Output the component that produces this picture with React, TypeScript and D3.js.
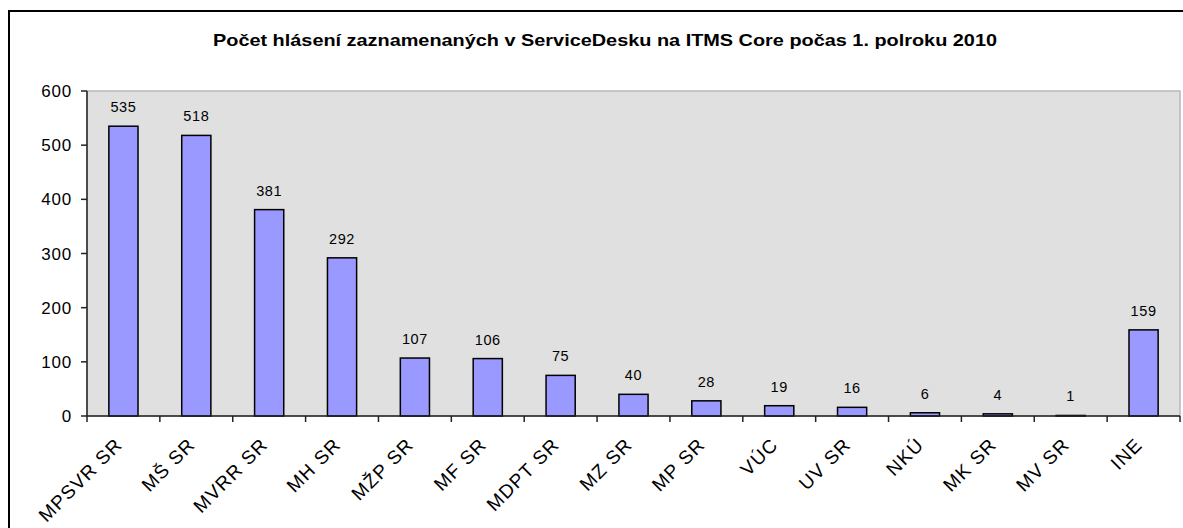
import React from 'react'
import * as d3 from 'd3'

const categories = [
  'MPSVR SR', 'MŠ SR', 'MVRR SR', 'MH SR', 'MŽP SR', 'MF SR', 'MDPT SR', 'MZ SR',
  'MP SR', 'VÚC', 'UV SR', 'NKÚ', 'MK SR', 'MV SR', 'INE',
]
const values = [535, 518, 381, 292, 107, 106, 75, 40, 28, 19, 16, 6, 4, 1, 159]
const yTicks = [0, 100, 200, 300, 400, 500, 600]
const title = 'Počet hlásení zaznamenaných v ServiceDesku na ITMS Core počas 1. polroku 2010'

const width = 1183
const height = 528
const font = '"Liberation Sans", Arial, sans-serif'

export default function App() {
  const left = 87
  const right = 1180
  const top = 91
  const bottom = 416

  const x = d3.scaleBand<string>().domain(categories).range([left, right]).paddingInner(0.6).paddingOuter(0.3)
  const y = d3.scaleLinear().domain([0, 600]).range([bottom, top])
  const step = x.step()

  return (
    <svg width={width} height={height} style={{ position: 'absolute', left: 0, top: 0 }} fontFamily={font}>
      <rect x={0} y={0} width={width} height={height} fill="#fff" />
      {/* outer chart frame, runs past the bottom/right edge */}
      <rect x={9} y={11} width={width + 20} height={height + 20} fill="none" stroke="#000" strokeWidth={2} />

      <text x={605} y={46} textAnchor="middle" fontSize={17} fontWeight="bold" textLength={784} lengthAdjust="spacingAndGlyphs">
        {title}
      </text>

      {/* plot area */}
      <rect x={left} y={top} width={right - left} height={bottom - top} fill="#e0e0e0" stroke="#b8b8b8" strokeWidth={1.5} />

      {values.map((v, i) => (
        <g key={categories[i]}>
          <rect
            x={x(categories[i])}
            y={y(v)}
            width={x.bandwidth()}
            height={bottom - y(v)}
            fill="#9999ff"
            stroke="#000"
            strokeWidth={1.5}
          />
          <text x={x(categories[i])! + x.bandwidth() / 2} y={y(v) - 14} textAnchor="middle" fontSize={14.5} letterSpacing={0.6}>
            {v}
          </text>
        </g>
      ))}

      {/* y axis */}
      <line x1={left} x2={left} y1={top} y2={bottom} stroke="#222" strokeWidth={1.5} />
      {yTicks.map((t) => (
        <g key={t}>
          <line x1={left - 6} x2={left} y1={y(t)} y2={y(t)} stroke="#222" strokeWidth={1.5} />
          <text x={left - 15} y={y(t)} dy="0.36em" textAnchor="end" fontSize={17} letterSpacing={0.8}>
            {t}
          </text>
        </g>
      ))}

      {/* x axis */}
      <line x1={left} x2={right} y1={bottom} y2={bottom} stroke="#222" strokeWidth={1.5} />
      {d3.range(categories.length + 1).map((i) => (
        <line key={i} x1={left + i * step} x2={left + i * step} y1={bottom} y2={bottom + 6} stroke="#222" strokeWidth={1.5} />
      ))}
      {categories.map((c) => {
        const cx = x(c)! + x.bandwidth() / 2
        return (
          <text key={c} transform={`translate(${cx},446) rotate(-45)`} textAnchor="end" fontSize={19} letterSpacing={1.2}>
            {c}
          </text>
        )
      })}
    </svg>
  )
}
